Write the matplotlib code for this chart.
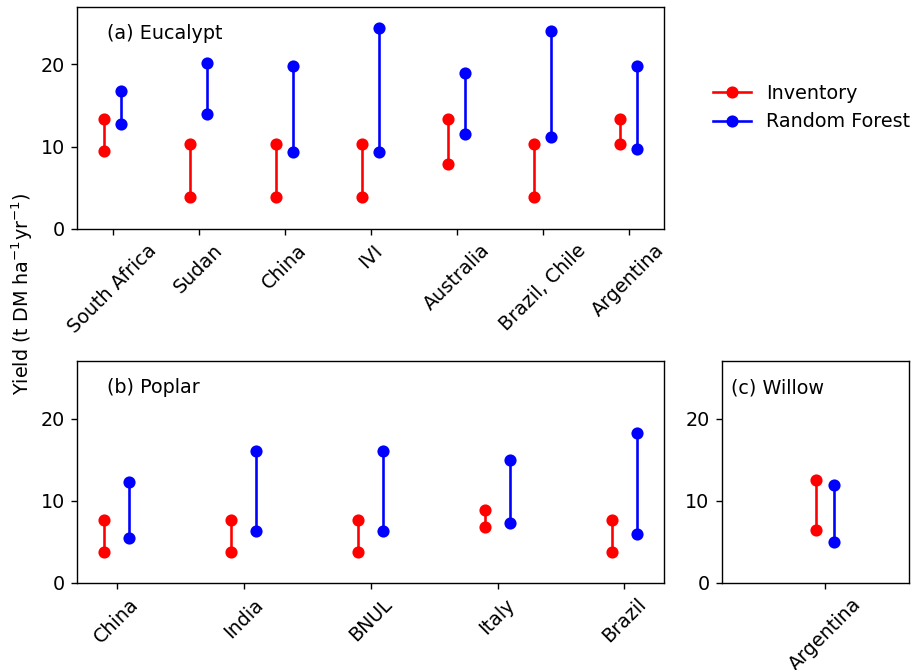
import numpy as np
import matplotlib
matplotlib.use("Agg")
import matplotlib.pyplot as plt

plt.rcParams["font.size"] = 11

# (a) Eucalypt
euc_sites = ["South Africa", "Sudan", "China", "IVI", "Australia", "Brazil, Chile", "Argentina"]
euc_inv_lo = [9.4, 3.9, 3.9, 3.9, 7.9, 3.9, 10.35]
euc_inv_hi = [13.4, 10.35, 10.35, 10.35, 13.4, 10.35, 13.4]
euc_rf_lo = [12.7, 13.95, 9.3, 9.3, 11.55, 11.1, 9.65]
euc_rf_hi = [16.8, 20.2, 19.8, 24.4, 18.95, 24.05, 19.75]

# (b) Poplar
pop_sites = ["China", "India", "BNUL", "Italy", "Brazil"]
pop_inv_lo = [3.8, 3.8, 3.8, 6.8, 3.8]
pop_inv_hi = [7.6, 7.6, 7.6, 8.9, 7.6]
pop_rf_lo = [5.4, 6.35, 6.35, 7.3, 5.9]
pop_rf_hi = [12.3, 16.1, 16.1, 14.95, 18.3]

# (c) Willow
wil_sites = ["Argentina"]
wil_inv_lo = [6.4]
wil_inv_hi = [12.5]
wil_rf_lo = [5.0]
wil_rf_hi = [11.9]

fig = plt.figure(figsize=(7.32, 5.36), dpi=125)
ax1 = fig.add_axes([0.0845, 0.6585, 0.641, 0.3315])
ax2 = fig.add_axes([0.0845, 0.1303, 0.641, 0.3305])
ax3 = fig.add_axes([0.7887, 0.1303, 0.2052, 0.3305])


def draw(ax, sites, inv_lo, inv_hi, rf_lo, rf_hi, title):
    x = np.arange(len(sites))
    for i in range(len(sites)):
        ax.plot([x[i] - 0.1, x[i] - 0.1], [inv_lo[i], inv_hi[i]], "o-", color="red",
                label="Inventory" if i == 0 else None)
        ax.plot([x[i] + 0.1, x[i] + 0.1], [rf_lo[i], rf_hi[i]], "o-", color="blue",
                label="Random Forest" if i == 0 else None)
    ax.set_xticks(x)
    ax.set_xticklabels(sites, rotation=45)
    ax.set_ylim(0, 27)
    ax.set_yticks([0, 10, 20])
    ax.text(0.05, 0.88, title, transform=ax.transAxes, va="center")


draw(ax1, euc_sites, euc_inv_lo, euc_inv_hi, euc_rf_lo, euc_rf_hi, "(a) Eucalypt")
draw(ax2, pop_sites, pop_inv_lo, pop_inv_hi, pop_rf_lo, pop_rf_hi, "(b) Poplar")
draw(ax3, wil_sites, wil_inv_lo, wil_inv_hi, wil_rf_lo, wil_rf_hi, "(c) Willow")
ax3.set_xlim(-1.1, 0.9)

ax1.legend(loc="upper left", bbox_to_anchor=(1.054, 0.73), frameon=False)
fig.text(0.024, 0.561, "Yield (t DM ha$^{-1}$yr$^{-1}$)", rotation=90, va="center", ha="center")

fig.savefig("out.png", dpi=125)
